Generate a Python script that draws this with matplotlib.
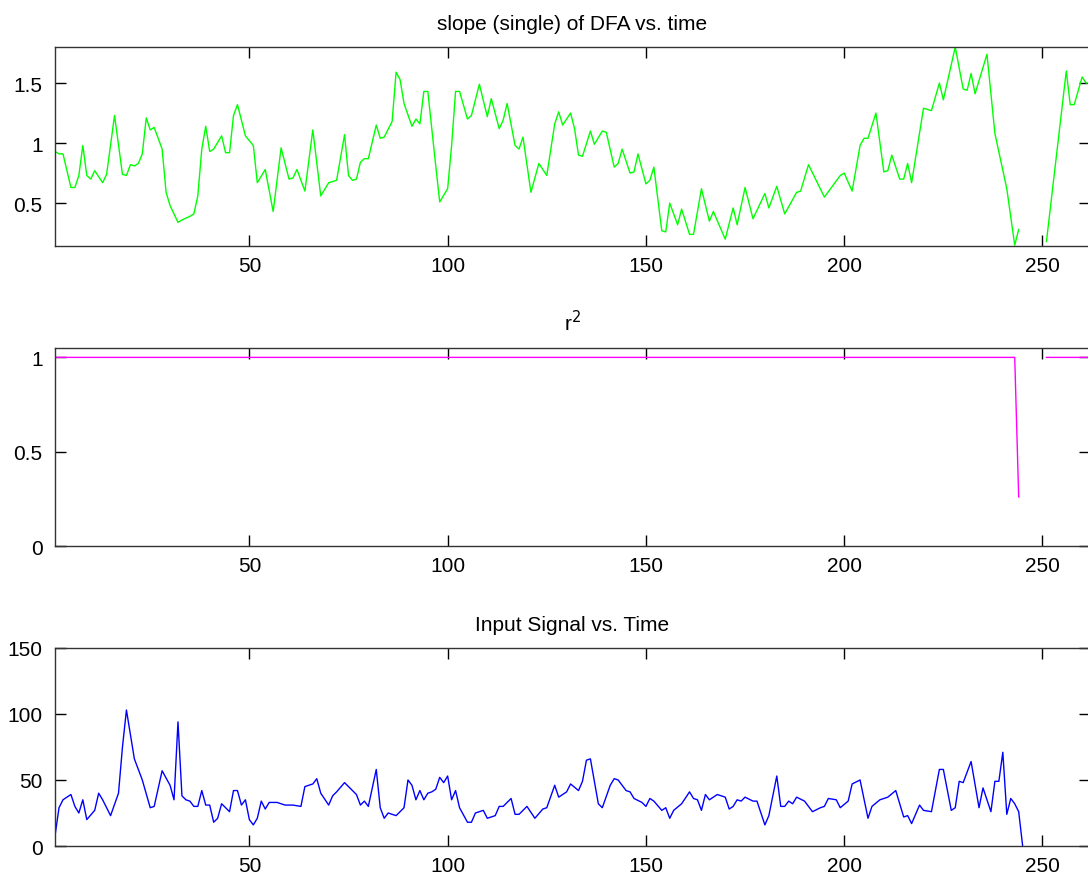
import matplotlib
matplotlib.use("Agg")
import matplotlib.pyplot as plt
import numpy as np
from matplotlib.ticker import FuncFormatter

# наклон DFA (single) по времени
slope_t = [1, 2, 3, 5, 6, 7, 8, 9, 10, 11, 13, 14, 16, 18, 19, 20, 21, 22, 23, 24,
           25, 26, 28, 29, 30, 32, 33, 35, 36, 37, 38, 39, 40, 41, 43, 44, 45, 46, 47, 49,
           51, 52, 54, 56, 58, 60, 61, 62, 64, 66, 68, 70, 72, 74, 75, 76, 77, 78, 79, 80,
           82, 83, 84, 86, 87, 88, 89, 91, 92, 93, 94, 95, 97, 98, 100, 101, 102, 103, 105, 106,
           108, 110, 111, 113, 114, 115, 117, 118, 119, 121, 123, 125, 127, 128, 129, 131, 132, 133, 134, 136,
           137, 139, 140, 142, 143, 144, 146, 147, 148, 150, 151, 152, 154, 155, 156, 158, 159, 161, 162, 164,
           166, 167, 170, 172, 173, 175, 177, 180, 181, 183, 185, 188, 189, 191, 195, 199, 200, 202, 204, 205,
           206, 208, 210, 211, 212, 214, 215, 216, 217, 220, 222, 224, 225, 228, 230, 231, 232, 233, 236, 238,
           241, 243, 244, 245, 251, 256, 257, 258, 260, 261, 262]
slope_v = [0.93, 0.91, 0.91, 0.63, 0.63, 0.73, 0.98, 0.73, 0.70, 0.77, 0.67, 0.74, 1.23, 0.74, 0.73, 0.82, 0.81, 0.83, 0.91, 1.21,
           1.11, 1.13, 0.95, 0.59, 0.48, 0.34, 0.36, 0.39, 0.41, 0.56, 0.95, 1.14, 0.93, 0.95, 1.06, 0.92, 0.92, 1.23, 1.32, 1.06,
           0.98, 0.67, 0.78, 0.43, 0.96, 0.70, 0.71, 0.78, 0.60, 1.11, 0.56, 0.67, 0.69, 1.07, 0.73, 0.69, 0.70, 0.84, 0.87, 0.87,
           1.15, 1.04, 1.05, 1.18, 1.59, 1.53, 1.33, 1.14, 1.20, 1.16, 1.43, 1.43, 0.81, 0.51, 0.62, 0.98, 1.43, 1.43, 1.20, 1.23,
           1.49, 1.22, 1.37, 1.12, 1.19, 1.33, 0.98, 0.95, 1.05, 0.59, 0.83, 0.73, 1.16, 1.26, 1.15, 1.25, 1.12, 0.90, 0.89, 1.10,
           0.99, 1.10, 1.09, 0.80, 0.83, 0.95, 0.75, 0.76, 0.91, 0.66, 0.69, 0.80, 0.27, 0.26, 0.50, 0.32, 0.45, 0.24, 0.24, 0.62,
           0.35, 0.43, 0.20, 0.46, 0.32, 0.63, 0.37, 0.58, 0.46, 0.64, 0.41, 0.59, 0.60, 0.82, 0.55, 0.73, 0.75, 0.60, 0.98, 1.04,
           1.04, 1.25, 0.76, 0.77, 0.90, 0.70, 0.70, 0.83, 0.67, 1.29, 1.27, 1.50, 1.36, 1.80, 1.45, 1.44, 1.58, 1.41, 1.74, 1.08,
           0.62, 0.15, 0.28, np.nan, 0.18, 1.60, 1.32, 1.32, 1.55, 1.50, 1.50]

# r^2 почти всегда 1, провал на 244 и пропуск до 250
r2_t = [1, 243, 244, 245, 251, 262]
r2_v = [1.0, 1.0, 0.26, np.nan, 1.0, 1.0]

# входной сигнал
sig_t = [1, 2, 3, 5, 6, 7, 8, 9, 11, 12, 13, 15, 17, 18, 19, 21, 22, 23, 25, 26,
         28, 30, 31, 32, 33, 34, 35, 36, 37, 38, 39, 40, 41, 42, 43, 45, 46, 47, 48, 49,
         50, 51, 52, 53, 54, 55, 57, 59, 61, 63, 64, 65, 66, 67, 68, 70, 71, 72, 74, 75,
         77, 78, 79, 80, 82, 83, 84, 85, 87, 89, 90, 91, 92, 93, 94, 95, 96, 97, 98, 99,
         100, 101, 102, 103, 105, 106, 107, 109, 110, 112, 113, 114, 116, 117, 118, 120, 122, 124, 125, 127,
         128, 130, 131, 133, 134, 135, 136, 138, 139, 141, 142, 143, 145, 146, 147, 149, 150, 151, 152, 154,
         155, 156, 157, 159, 161, 162, 163, 164, 165, 166, 168, 170, 171, 172, 173, 174, 175, 177, 178, 180,
         181, 183, 184, 185, 186, 187, 188, 190, 192, 194, 195, 196, 198, 199, 201, 202, 204, 206, 207, 209,
         211, 213, 215, 216, 217, 219, 220, 222, 224, 225, 227, 228, 229, 230, 232, 234, 235, 237, 238, 239,
         240, 241, 242, 243, 244, 245]
sig_v = [8, 29, 35, 39, 30, 25, 35, 20, 27, 40, 35, 23, 40, 75, 103, 66, 58, 50, 29, 30,
         57, 46, 35, 94, 38, 35, 34, 30, 30, 42, 31, 31, 18, 21, 32, 26, 42, 42, 31, 35,
         20, 16, 21, 34, 28, 33, 33, 31, 31, 30, 45, 46, 47, 51, 40, 31, 38, 41, 48, 45,
         39, 31, 34, 30, 58, 29, 21, 25, 23, 29, 50, 46, 35, 42, 35, 40, 41, 43, 52, 48,
         53, 35, 42, 29, 18, 18, 25, 27, 21, 23, 30, 30, 36, 24, 24, 30, 21, 28, 29, 46,
         37, 41, 47, 42, 49, 65, 66, 32, 29, 46, 51, 50, 42, 41, 36, 33, 30, 36, 34, 27,
         29, 21, 27, 32, 41, 36, 35, 27, 39, 35, 39, 37, 28, 30, 35, 34, 37, 34, 34, 16,
         23, 53, 30, 30, 34, 32, 37, 34, 26, 29, 30, 36, 35, 29, 34, 47, 50, 21, 30, 35,
         37, 42, 22, 23, 17, 31, 27, 26, 58, 58, 27, 29, 49, 48, 64, 29, 44, 26, 49, 49,
         71, 24, 36, 32, 26, 0]

xtick_vals = [50, 100, 150, 200, 250]

plt.rcParams['font.family'] = ['Liberation Sans', 'DejaVu Sans']
plt.rcParams['font.size'] = 15

fig = plt.figure(figsize=(10.88, 8.79), dpi=100)

fmt = FuncFormatter(lambda v, p: '%g' % v)


def style_axes(ax, ylim, yticks, title):
    ax.set_xlim(1, 262)
    ax.set_ylim(*ylim)
    ax.set_xticks(xtick_vals)
    ax.set_yticks(yticks)
    ax.yaxis.set_major_formatter(fmt)
    ax.tick_params(direction='in', length=8, width=1, top=True, right=True,
                   colors='black', labelsize=15)
    ax.tick_params(axis='x', pad=7)
    ax.tick_params(axis='y', pad=9)
    for s in ax.spines.values():
        s.set_color('#333333')
        s.set_linewidth(1)
    ax.set_title(title, fontsize=15, pad=13)


# ось выходит за правый край картинки, как в оригинале
ax1 = fig.add_axes([0.0506, 0.719, 0.9513, 0.2264])
ax1.plot(slope_t, slope_v, color='#00ff00', lw=1)
style_axes(ax1, (0.143, 1.80), [0.5, 1, 1.5], 'slope (single) of DFA vs. time')

ax2 = fig.add_axes([0.0506, 0.3777, 0.9513, 0.2253])
ax2.plot(r2_t, r2_v, color='#ff00ff', lw=1)
style_axes(ax2, (0, 1.05), [0, 0.5, 1], 'r$^2$')

ax3 = fig.add_axes([0.0506, 0.0364, 0.9513, 0.2253])
ax3.plot(sig_t, sig_v, color='#0000ff', lw=1)
style_axes(ax3, (0, 150), [0, 50, 100, 150], 'Input Signal vs. Time')

fig.savefig('out.png', dpi=100)
